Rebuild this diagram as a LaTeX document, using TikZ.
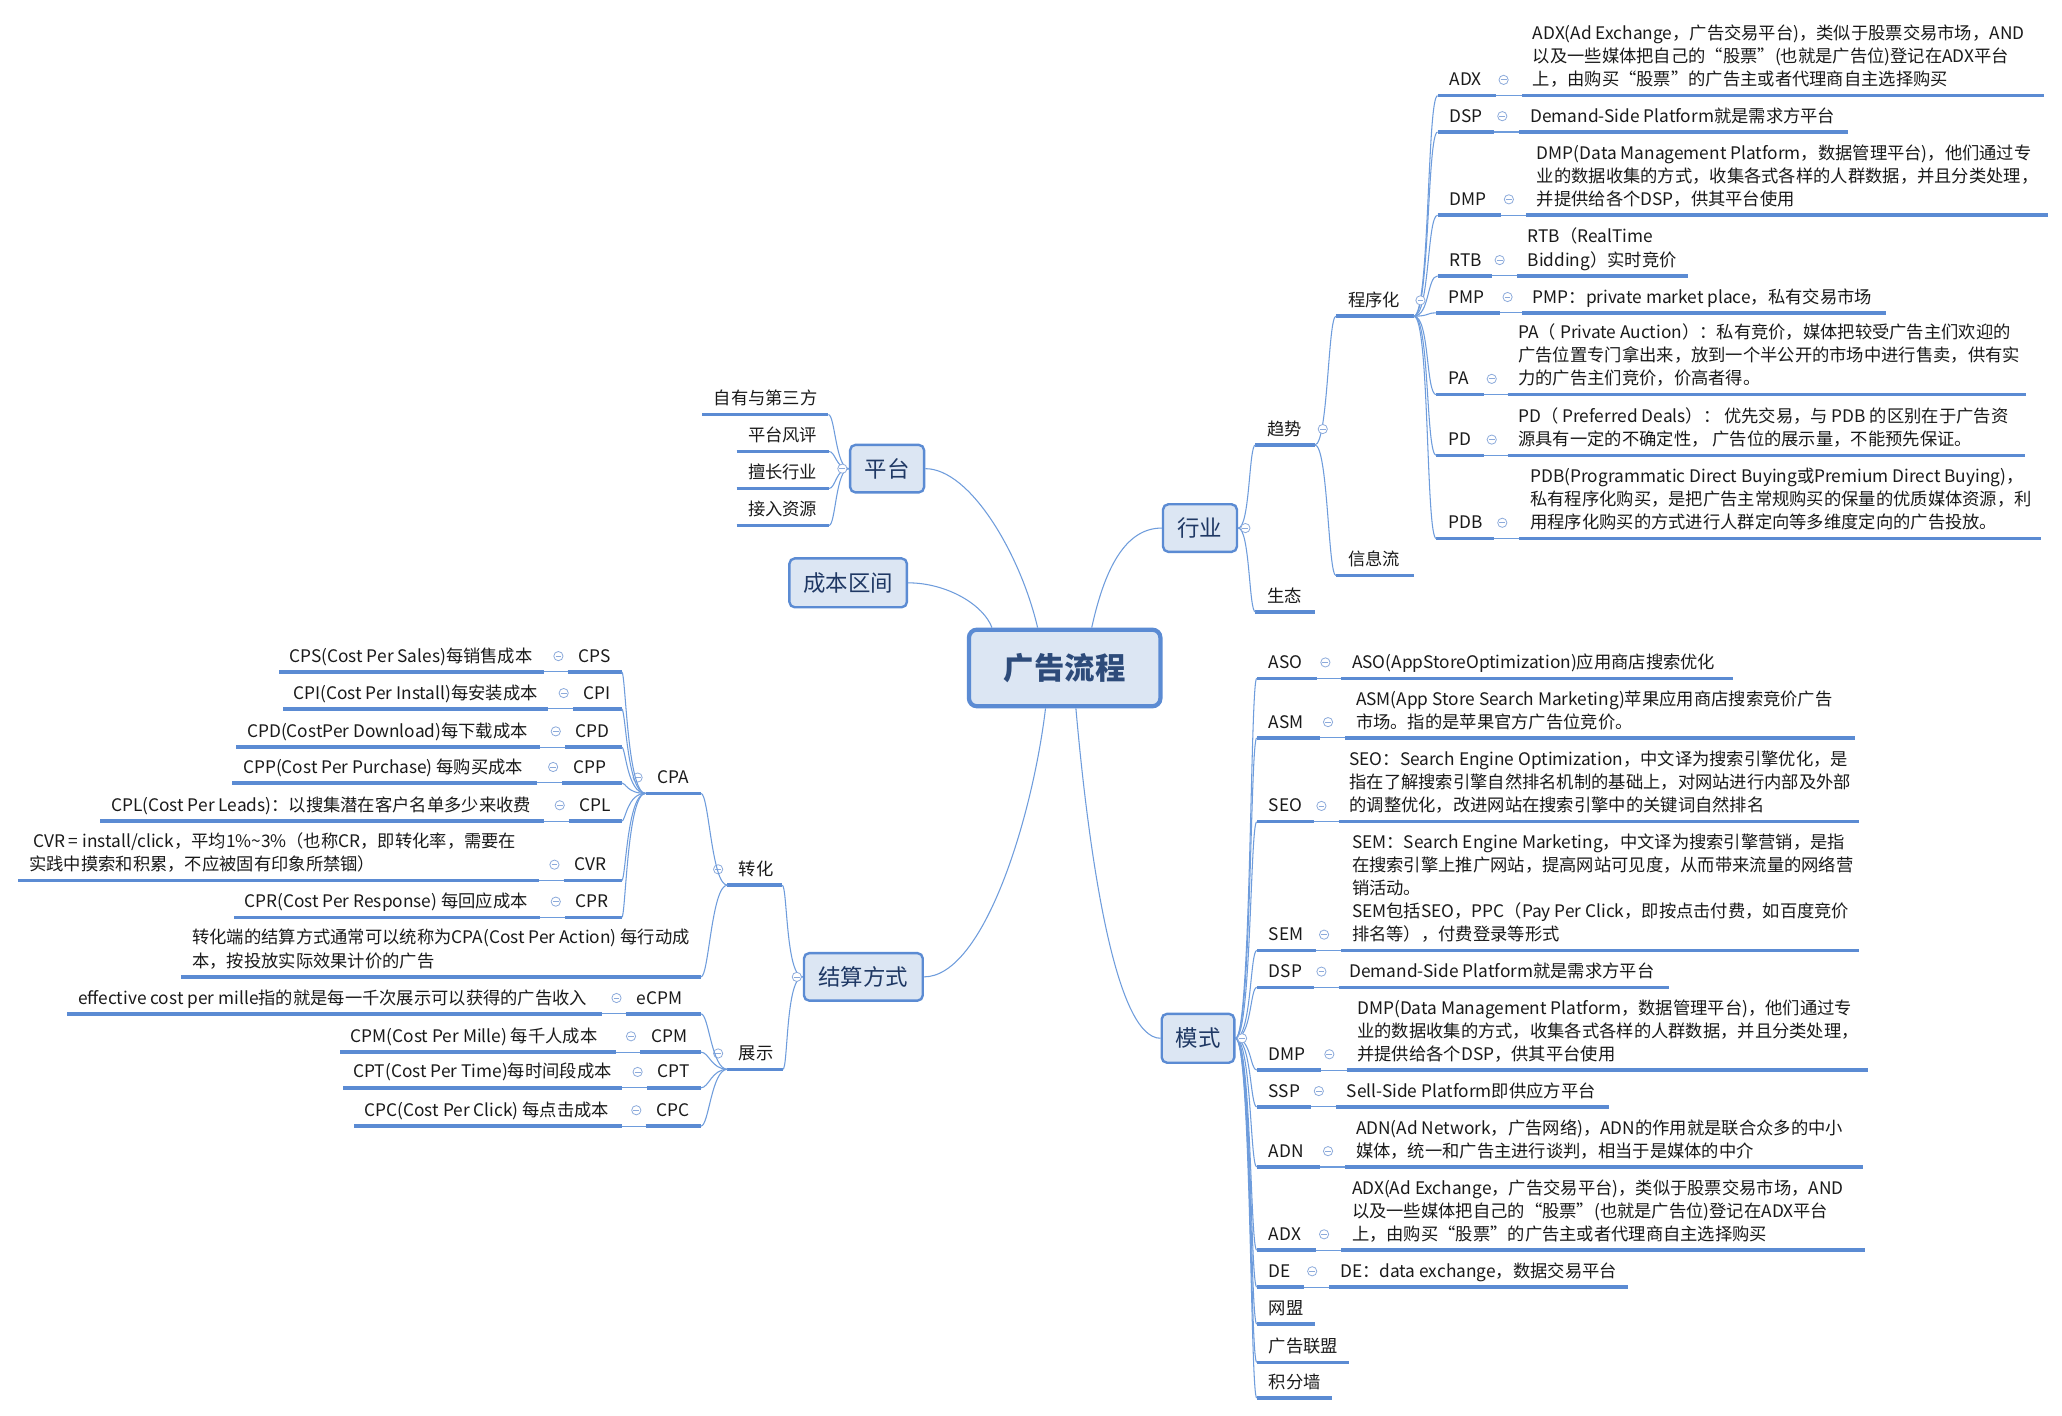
\documentclass[tikz,border=0pt]{standalone}
\usepackage{fontspec}
\setmainfont{Noto Sans CJK SC}
\usetikzlibrary{calc}
\definecolor{linec}{HTML}{5B8BD3}
\definecolor{thinc}{HTML}{6E9CDC}
\definecolor{iconc}{HTML}{8CAADB}
\definecolor{boxfill}{HTML}{DCE6F3}
\definecolor{boxtext}{HTML}{1F3864}
\definecolor{roottext}{HTML}{2D4B7A}
\definecolor{leaftext}{HTML}{1A1A1A}
\tikzset{
 ul/.style={draw=linec, line width=2.6pt},
 conn/.style={draw=thinc, line width=0.8pt},
 desc/.style={inner sep=0pt, align=left, font=\fontsize{13.1}{17.5}\selectfont, text=leaftext},
 icon/.style={circle, draw=iconc, fill=white, line width=0.6pt, minimum size=7pt, inner sep=0pt,
   path picture={\draw[iconc,line width=0.6pt] ($(path picture bounding box.center)+(-2.2pt,0)$) -- ($(path picture bounding box.center)+(2.2pt,0)$);}},
 topic/.style={draw=linec, fill=boxfill, line width=1.8pt, rounded corners=4pt, text=boxtext, font=\fontsize{17}{20}\selectfont, inner sep=0pt},
 root/.style={draw=linec, fill=boxfill, line width=3.2pt, rounded corners=6pt, text=roottext, font=\fontsize{23}{26}\selectfont\bfseries, inner sep=0pt},
}
% right leaf with description: name, y, x0, x1, x2, x3, label, desc
\newcommand\RL[8]{%
  \coordinate (#1-s) at (#3,#2);
  \coordinate (#1-e) at (#4,#2);
  \coordinate (#1-m) at (#5,#2);
  \coordinate (#1-z) at (#6,#2);
  \node[desc,anchor=south west] (#1) at ({#3+9},{#2-2}) {#7\strut};
  \node[icon] (#1-i) at ({#4+6},{#2-12}) {};
  \node[desc,anchor=south west] (#1-d) at ({#5+8},{#2-2}) {#8\strut};
  \draw[ul] (#1-s) -- (#1-e);
  \draw[conn] (#1-e) -- (#1-m);
  \draw[ul] (#1-m) -- (#1-z);
}
% right simple: name, y, x0, x1, label
\newcommand\RS[5]{%
  \coordinate (#1-s) at (#3,#2);
  \coordinate (#1-e) at (#4,#2);
  \node[desc,anchor=south west] (#1) at ({#3+9},{#2-2}) {#5\strut};
  \draw[ul] (#1-s) -- (#1-e);
}
% left leaf with description: name, y, x3, x2, x1, x0, label, desc
\newcommand\LL[8]{%
  \coordinate (#1-s) at (#6,#2);
  \coordinate (#1-e) at (#5,#2);
  \coordinate (#1-m) at (#4,#2);
  \coordinate (#1-z) at (#3,#2);
  \node[desc,anchor=south west] (#1) at ({#5+8},{#2-2}) {#7\strut};
  \node[icon] (#1-i) at ({#5-7},{#2-12}) {};
  \node[desc,anchor=south west] (#1-d) at ({#3+8},{#2-2}) {#8\strut};
  \draw[ul] (#1-e) -- (#1-s);
  \draw[conn] (#1-e) -- (#1-m);
  \draw[ul] (#1-m) -- (#1-z);
}
% left simple: name, y, x3 (left), x0 (right), label
\newcommand\LS[5]{%
  \coordinate (#1-s) at (#4,#2);
  \coordinate (#1-e) at (#3,#2);
  \node[desc,anchor=south west] (#1) at ({#3+8.5},{#2-2}) {#5\strut};
  \draw[ul] (#1-e) -- (#1-s);
}
% bracket connector
\newcommand\cb[4]{\draw[conn] (#1) .. controls ($(#1)+(#3,0)$) and ($(#2)+(#4,0)$) .. (#2);}

\begin{document}
\begin{tikzpicture}[x=1pt,y=-1pt]
\useasboundingbox (0,0) rectangle (1562,1072);
\fill[white] (0,0) rectangle (1562,1072);

% ---------- main topics ----------
\node[root, minimum width=145, minimum height=58] (root) at (806.5,506) {广告流程};
\node[topic, minimum width=56, minimum height=36] (pingtai) at (672,355) {平台};
\node[topic, minimum width=89, minimum height=37] (chengben) at (642.5,441.5) {成本区间};
\node[topic, minimum width=56, minimum height=36] (hangye) at (909,400) {行业};
\node[topic, minimum width=90, minimum height=36] (jiesuan) at (654,740) {结算方式};
\node[topic, minimum width=55, minimum height=37] (moshi) at (907.5,786.5) {模式};

\draw[conn] ($(root.north)+(-20.5,0)$) .. controls (773,420) and (735,355) .. (pingtai.east);
\draw[conn] ($(root.north west)+(19,0)$) .. controls (745,458) and (717,441.5) .. (chengben.east);
\draw[conn] ($(root.north)+(20.5,0)$) .. controls (838,425) and (855,400) .. (hangye.west);
\draw[conn] ($(root.south)+(-14.5,0)$) .. controls (782,620) and (745,740) .. (jiesuan.east);
\draw[conn] ($(root.south)+(8.5,0)$) .. controls (825,650) and (845,786.5) .. (moshi.west);

% ---------- 行业 ----------
\RS{qushi}{337}{951}{996}{趋势}
\RS{shengtai}{463.6}{951}{996}{生态}
\RS{chengxu}{239.5}{1012}{1071}{程序化}
\RS{xinxi}{436}{1012}{1071}{信息流}

\RL{cxadx}{72.5}{1089}{1133}{1153}{1548}{ADX}{ADX(Ad Exchange，广告交易平台)，类似于股票交易市场，AND\\以及一些媒体把自己的“股票”(也就是广告位)登记在ADX平台\\上，由购买“股票”的广告主或者代理商自主选择购买}
\RL{cxdsp}{100}{1089}{1132}{1151}{1400}{DSP}{Demand-Side Platform就是需求方平台}
\RL{cxdmp}{163}{1089}{1137}{1156}{1551}{DMP}{DMP(Data Management Platform，数据管理平台)，他们通过专\\业的数据收集的方式，收集各式各样的人群数据，并且分类处理，\\并提供给各个DSP，供其平台使用}
\RL{cxrtb}{209}{1089}{1130}{1149}{1279}{RTB}{RTB（RealTime\\Bidding）实时竞价}
\RL{cxpmp}{237}{1088}{1136}{1153}{1429}{PMP}{PMP：private market place，私有交易市场}
\RL{cxpa}{299}{1088}{1124}{1142}{1535}{PA}{PA（ Private Auction）：私有竞价，媒体把较受广告主们欢迎的\\广告位置专门拿出来，放到一个半公开的市场中进行售卖，供有实\\力的广告主们竞价，价高者得。}
\RL{cxpd}{345}{1088}{1124}{1142}{1534}{PD}{PD（ Preferred Deals）： 优先交易，与 PDB 的区别在于广告资\\源具有一定的不确定性， 广告位的展示量，不能预先保证。}
\RL{cxpdb}{408}{1088}{1132}{1151}{1546}{PDB}{PDB(Programmatic Direct Buying或Premium Direct Buying)，\\私有程序化购买，是把广告主常规购买的保量的优质媒体资源，利\\用程序化购买的方式进行人群定向等多维度定向的广告投放。}

\foreach \c in {qushi,shengtai} {\cb{hangye.east}{\c-s}{9}{-5}}
\foreach \c in {chengxu,xinxi} {\cb{qushi-e}{\c-s}{10}{-6}}
\foreach \c in {cxadx,cxdsp,cxdmp,cxrtb,cxpmp,cxpa,cxpd,cxpdb} {\cb{chengxu-e}{\c-s}{12}{-8}}
\node[icon] (hangye-i) at ($(hangye.east)+(5.5,0)$) {};
\node[icon] (qushi-i) at (1002,325) {};
\node[icon] (chengxu-i) at (1076,227.5) {};

% ---------- 模式 ----------
\RL{msaso}{513.8}{952}{998}{1016}{1313}{ASO}{ASO(AppStoreOptimization)应用商店搜索优化}
\RL{msasm}{559}{952}{1000}{1019}{1405}{ASM}{ASM(App Store Search Marketing)苹果应用商店搜索竞价广告\\市场。指的是苹果官方广告位竞价。}
\RL{msseo}{622.5}{952}{995}{1014}{1408}{SEO}{SEO：Search Engine Optimization，中文译为搜索引擎优化，是\\指在了解搜索引擎自然排名机制的基础上，对网站进行内部及外部\\的调整优化，改进网站在搜索引擎中的关键词自然排名}
\RL{mssem}{720}{952}{997}{1016}{1408}{SEM}{SEM：Search Engine Marketing，中文译为搜索引擎营销，是指\\在搜索引擎上推广网站，提高网站可见度，从而带来流量的网络营\\销活动。\\SEM包括SEO，PPC（Pay Per Click，即按点击付费，如百度竞价\\排名等），付费登录等形式}
\RL{msdsp}{748}{952}{995}{1014}{1264}{DSP}{Demand-Side Platform就是需求方平台}
\RL{msdmp}{810.6}{952}{1001}{1020}{1415}{DMP}{DMP(Data Management Platform，数据管理平台)，他们通过专\\业的数据收集的方式，收集各式各样的人群数据，并且分类处理，\\并提供给各个DSP，供其平台使用}
\RL{msssp}{838.5}{952}{993}{1012}{1219}{SSP}{Sell-Side Platform即供应方平台}
\RL{msadn}{884}{952}{1000}{1019}{1411}{ADN}{ADN(Ad Network，广告网络)，ADN的作用就是联合众多的中小\\媒体，统一和广告主进行谈判，相当于是媒体的中介}
\RL{msadx}{947}{952}{997}{1016}{1413}{ADX}{ADX(Ad Exchange，广告交易平台)，类似于股票交易市场，AND\\以及一些媒体把自己的“股票”(也就是广告位)登记在ADX平台\\上，由购买“股票”的广告主或者代理商自主选择购买}
\RL{msde}{975}{952}{988}{1007}{1233}{DE}{DE：data exchange，数据交易平台}
\RS{mswm}{1003}{952}{996}{网盟}
\RS{msgg}{1032}{952}{1022}{广告联盟}
\RS{msjf}{1059}{952}{1009}{积分墙}
\foreach \c in {msaso,msasm,msseo,mssem,msdsp,msdmp,msssp,msadn,msadx,msde,mswm,msgg,msjf} {\cb{moshi.east}{\c-s}{12}{-5}}
\node[icon] (moshi-i) at ($(moshi.east)+(5,0)$) {};

% ---------- 平台 ----------
\LS{zysf}{314}{532}{627.5}{自有与第三方}
\LS{ptfp}{342}{558}{628}{平台风评}
\LS{sczy}{370}{558}{628}{擅长行业}
\LS{jrzy}{398}{558}{628}{接入资源}
\foreach \c in {zysf,ptfp,sczy,jrzy} {\cb{pingtai.west}{\c-s}{-10}{5}}
\node[icon] (pingtai-i) at ($(pingtai.west)+(-5,0)$) {};

% ---------- 结算方式 ----------
\LS{zhuanhua}{670.5}{551}{592.5}{转化}
\LS{zhanshi}{810}{551}{593}{展示}
\LS{cpa}{601}{489}{531}{CPA}
\LS{zhd}{740}{137}{531}{转化端的结算方式通常可以统称为CPA(Cost Per Action) 每行动成\\本，按投放实际效果计价的广告}
\node[icon] (zhuanhua-i) at (544,658.5) {};
\node[icon] (zhanshi-i) at (544,798) {};
\node[icon] (cpa-i) at (483,589) {};

\LL{cps}{509}{211}{412}{430}{471}{CPS}{CPS(Cost Per Sales)每销售成本}
\LL{cpi}{537}{214}{415}{434}{471}{CPI}{CPI(Cost Per Install)每安装成本}
\LL{cpd}{566}{179}{409}{428}{471}{CPD}{CPD(CostPer Download)每下载成本}
\LL{cpp}{593}{176}{407}{426}{471}{CPP}{CPP(Cost Per Purchase) 每购买成本}
\LL{cpl}{622}{76}{412}{431}{471}{CPL}{CPL(Cost Per Leads)：以搜集潜在客户名单多少来收费}
\LL{cvr}{667}{14}{408}{427}{471}{CVR}{\ CVR = install/click，平均1\%\textasciitilde3\%（也称CR，即转化率，需要在\\实践中摸索和积累，不应被固有印象所禁锢）}
\LL{cpr}{695}{177}{409}{428}{471}{CPR}{CPR(Cost Per Response) 每回应成本}
\LL{ecpm}{768}{51}{456}{474}{531}{eCPM}{effective cost per mille指的就是每一千次展示可以获得的广告收入}
\LL{cpm}{797}{257.6}{466.7}{485}{531}{CPM}{CPM(Cost Per Mille) 每千人成本}
\LL{cpt}{824}{259.5}{471}{490}{531}{CPT}{CPT(Cost Per Time)每时间段成本}
\LL{cpc}{853}{268}{471}{489}{531}{CPC}{CPC(Cost Per Click) 每点击成本}

\foreach \c in {zhuanhua,zhanshi} {\cb{jiesuan.west}{\c-s}{-13}{4}}
\foreach \c in {cpa,zhd} {\cb{zhuanhua-e}{\c-s}{-12}{6}}
\foreach \c in {cps,cpi,cpd,cpp,cpl,cvr,cpr} {\cb{cpa-e}{\c-s}{-14}{3}}
\foreach \c in {ecpm,cpm,cpt,cpc} {\cb{zhanshi-e}{\c-s}{-12}{6}}
\node[icon] (jiesuan-i) at ($(jiesuan.west)+(-4.5,0)$) {};
\end{tikzpicture}
\end{document}
